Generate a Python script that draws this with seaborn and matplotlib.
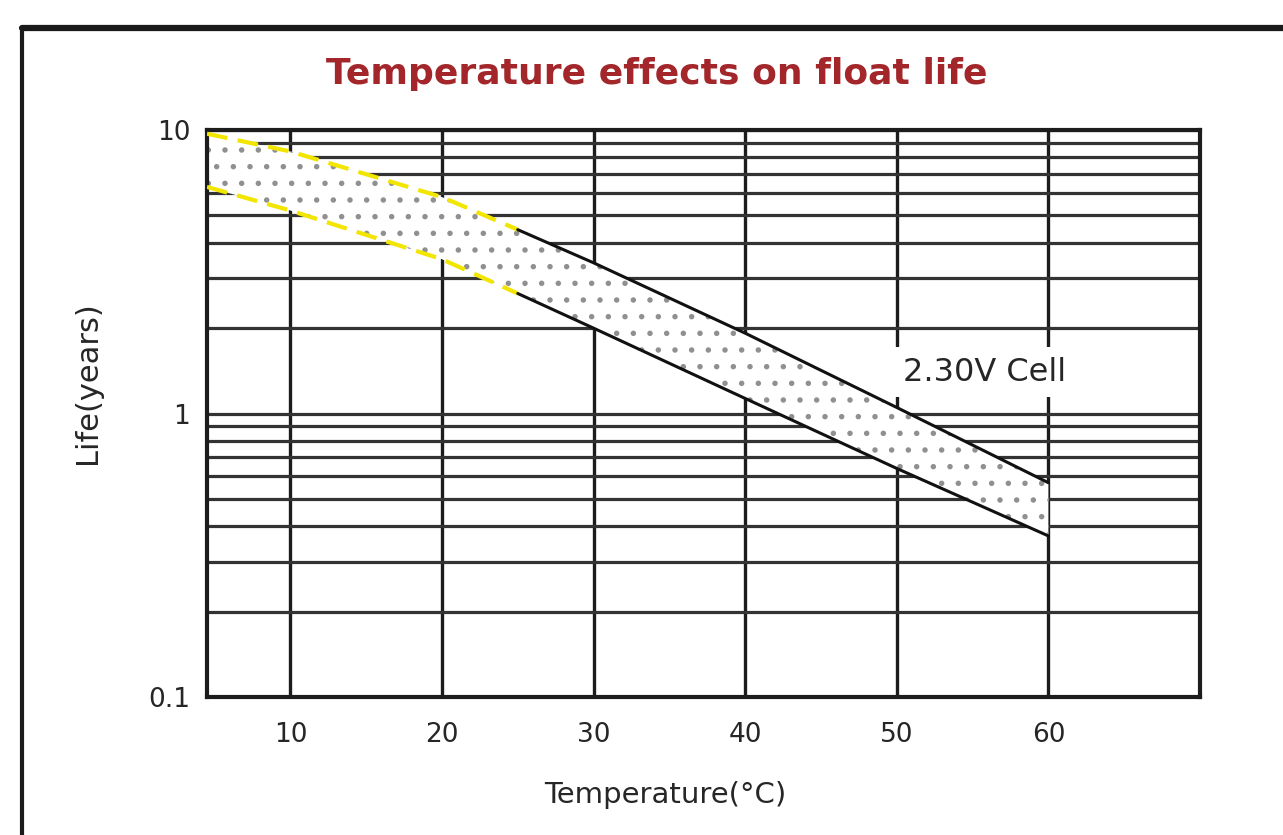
import matplotlib
matplotlib.use("Agg")
import matplotlib.pyplot as plt
import seaborn as sns
import pandas as pd
from matplotlib.lines import Line2D
from matplotlib.ticker import LogLocator, NullFormatter, FixedLocator

# ================= DATA =================
temps = [4.5, 10, 20, 25, 30, 40, 50, 60]
life_upper = [9.7, 8.4, 5.8, 4.45, 3.4, 1.92, 1.05, 0.57]
life_lower = [6.3, 5.2, 3.5, 2.65, 2.0, 1.13, 0.64, 0.37]
split_temp = 25

x_ticks = [10, 20, 30, 40, 50, 60]
y_ticks = [0.1, 1, 10]
y_tick_labels = ["0.1", "1", "10"]

title = "Temperature effects on float life"
x_label = "Temperature(°C)"
y_label = "Life(years)"
cell_label = "2.30V Cell"
# =========================================

TITLE_COLOR = "#a3262a"
TEXT_COLOR = "#262626"
YELLOW = "#f2e600"


def main():
    sns.set_theme(style="white")
    plt.rcParams["font.family"] = ["DejaVu Sans"]
    plt.rcParams["hatch.linewidth"] = 1.5

    df = pd.concat([
        pd.DataFrame({"temp": temps, "life": life_upper, "edge": "upper"}),
        pd.DataFrame({"temp": temps, "life": life_lower, "edge": "lower"}),
    ], ignore_index=True)
    cool = df[df["temp"] <= split_temp]
    warm = df[df["temp"] >= split_temp]

    fig = plt.figure(figsize=(12.83, 8.35), dpi=100)
    ax = fig.add_axes([207 / 1283, 1 - 697 / 835, 993 / 1283, 567 / 835])

    ax.set_yscale("log")
    ax.set_xlim(4.5, 70)
    ax.set_ylim(0.1, 10)

    # grid: vertical at major x, horizontal at every log minor step
    ax.set_axisbelow(True)
    ax.xaxis.set_major_locator(FixedLocator(x_ticks))
    ax.yaxis.set_major_locator(FixedLocator(y_ticks))
    ax.set_yticklabels(y_tick_labels)
    ax.yaxis.set_minor_locator(LogLocator(base=10, subs=range(2, 10)))
    ax.yaxis.set_minor_formatter(NullFormatter())
    ax.grid(True, axis="x", which="major", color="#1c1c1c", linewidth=2.4)
    ax.grid(True, axis="y", which="both", color="#333333", linewidth=2.3)

    # dotted band
    ax.fill_between(temps, life_lower, life_upper, facecolor="white",
                    edgecolor="#909090", linewidth=0, hatch=".", zorder=2)

    sns.lineplot(data=cool, x="temp", y="life", units="edge", estimator=None,
                 color=YELLOW, linewidth=3, linestyle=(0, (5, 2.5)),
                 ax=ax, zorder=3)
    sns.lineplot(data=warm, x="temp", y="life", units="edge", estimator=None,
                 color="#111111", linewidth=2.2, ax=ax, zorder=3)

    ax.text(50.4, 1.40, cell_label, fontsize=23, color=TEXT_COLOR,
            ha="left", va="center", zorder=4,
            bbox=dict(facecolor="white", edgecolor="none", pad=7))

    for side in ["left", "right", "top", "bottom"]:
        ax.spines[side].set_visible(True)
        ax.spines[side].set_color("#1c1c1c")
        ax.spines[side].set_linewidth(3)

    ax.tick_params(axis="both", which="both", length=0, labelsize=19,
                   labelcolor=TEXT_COLOR)
    ax.tick_params(axis="x", pad=18)
    ax.tick_params(axis="y", pad=12)

    ax.set_xlabel(x_label, fontsize=21, color=TEXT_COLOR)
    ax.set_ylabel(y_label, fontsize=22, color=TEXT_COLOR)
    ax.xaxis.set_label_coords(0.461, -0.173)
    ax.xaxis.label.set_va("center")
    ax.yaxis.set_label_coords(-0.12, 0.554)
    ax.yaxis.label.set_va("center")

    fig.text(657 / 1283, 1 - 74 / 835, title, fontsize=26, fontweight="bold",
             color=TITLE_COLOR, ha="center", va="center")

    # outer frame running off the canvas
    fig.add_artist(Line2D([22 / 1283, 1.02], [1 - 28 / 835] * 2,
                          color="#1a1a1a", linewidth=4.5))
    fig.add_artist(Line2D([22 / 1283] * 2, [-0.02, 1 - 28 / 835],
                          color="#1a1a1a", linewidth=3))

    fig.savefig("out.png", dpi=100)
    plt.close(fig)


if __name__ == "__main__":
    main()
